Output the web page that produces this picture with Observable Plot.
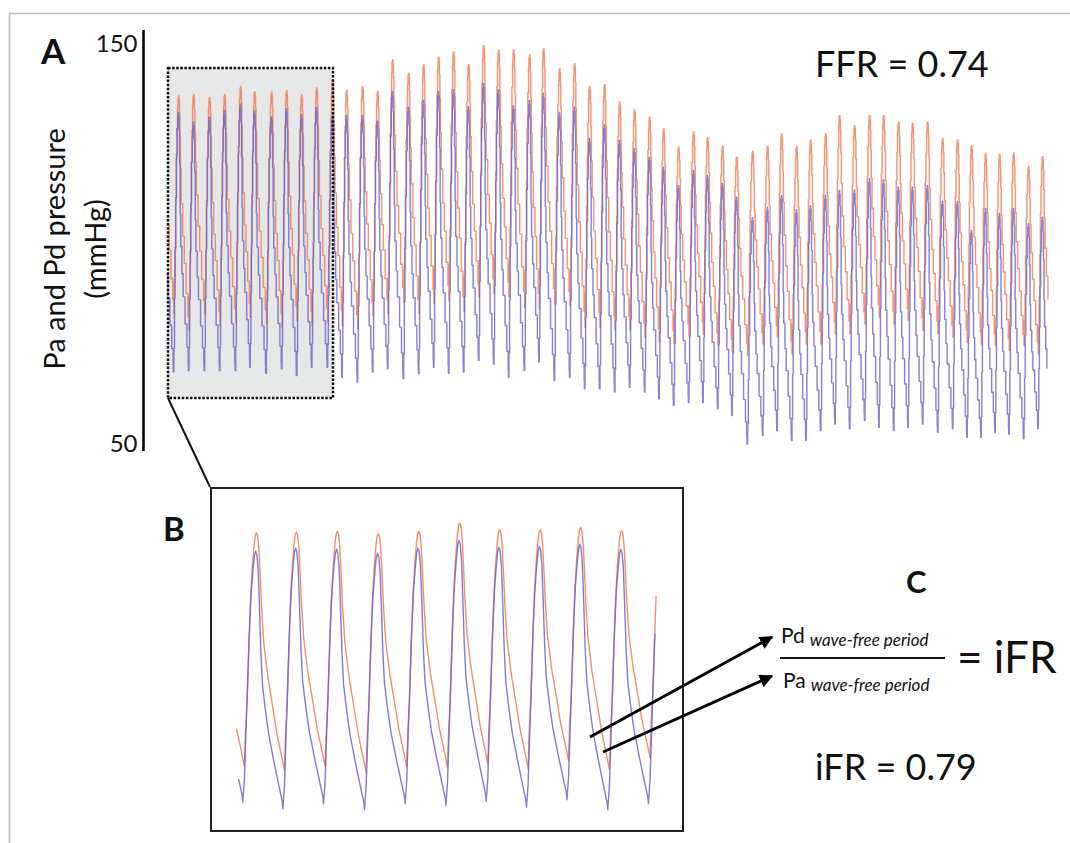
<!DOCTYPE html>
<html><head><meta charset="utf-8">
<script src="https://cdn.jsdelivr.net/npm/d3@7"></script>
<script src="https://cdn.jsdelivr.net/npm/@observablehq/plot@0.6"></script>
<style>
html,body{margin:0;padding:0;background:#fff;}
#fig{position:relative;width:1070px;height:843px;overflow:hidden;font-family:Lato,"Open Sans",sans-serif;}
#fig > svg{position:absolute;}
</style></head><body><div id="fig"></div>
<script>
// ---------- Panel A: whole recording (time in s, pressure in mmHg) ----------
const beatPeakTimeA = [-0.17,0.60,1.35,2.15,2.90,3.70,4.40,5.25,6.00,6.75,
  7.50,8.30,9.00,9.80,10.55,11.30,12.10,12.85,13.60,14.35,
  15.10,15.85,16.60,17.35,18.15,18.85,19.65,20.40,21.15,21.90,
  22.65,23.40,24.15,24.85,25.60,26.35,27.05,27.80,28.50,29.30,
  30.05,30.75,31.50,32.20,32.95,33.65,34.40,35.15,35.85,36.60,
  37.30,38.05,38.80,39.55,40.25,40.95,41.65,42.35,43.10,43.80];
const paSystolicA = [138,137.0,137.4,136.6,137.4,139.4,138.0,138.0,138.4,137.3,
  139.0,141,138.4,139.4,138.2,146.0,142.7,144.9,146.7,148.0,
  144.9,149.6,148.5,148.5,147.3,148.8,143.8,145.1,139.4,139.9,
  135.5,133.6,131.7,128.8,124.2,128.0,126.6,124.6,121.7,123.2,
  124.4,127.5,124.4,126.0,127.5,132.1,129.6,132.1,132.1,130.5,
  130.2,130.5,126.3,126.0,124.6,122.7,122.4,122.7,119.4,121.9];
const paDiastolicA = [80,82.6,78.4,82.6,79.6,80.4,81.6,80.1,79.1,80.9,
  79.6,80.4,79.6,78.8,82.1,82.6,85.4,82.6,85.1,85.9,
  83.0,86.7,87.6,86.7,84.2,83.8,85.1,84.6,79.2,79.2,
  78.4,78.4,76.7,75.5,75.1,77.1,77.5,74.6,73.0,72.1,
  75.0,76.7,72.5,75.0,75.0,77.5,77.5,80.0,81.7,80.0,
  80.9,78.4,77.5,76.7,75.4,75.0,74.6,73.4,74.6,72.5,72];
const pdSystolicA = [133,132.9,130.5,131.7,133.4,135.0,133.4,131.7,133.8,132.3,
  134.2,132,132.1,132.1,130.7,138.1,134.2,135.9,138.1,138.6,
  134.4,140.1,138.6,134.6,135.9,137.7,132.9,134.2,126.3,129.8,
  125.9,123.8,121.7,119.2,114.6,118.4,117.1,115.1,111.7,106.6,
  109.2,112.1,108.6,109.6,112.1,113.4,113.5,116.3,116.0,114.2,
  114.2,114.6,110.7,110.7,103.4,108.8,107.6,108.8,105.1,106.7];
const pdDiastolicA = [68,68.0,68.4,68.4,68.4,68.4,69.2,67.7,68.8,67.1,
  69.2,69.2,66.7,65.5,68.0,68.8,66.3,67.6,69.2,67.7,
  68.0,70.9,70.0,66.7,68.4,70.5,65.9,66.7,63.8,63.8,
  63.0,64.2,63.0,61.3,59.6,60.4,60.4,58.8,57.1,50.0,
  52.1,53.4,50.9,50.9,53.4,55.0,53.8,55.9,54.2,53.4,
  54.2,55.0,52.9,53.8,51.7,51.7,52.9,52.5,51.3,53.8,54];
const timeRangeA = [0, 44.1];
const pressureDomain = [50, 150];
const pressureTicks = [50, 150];
const axisExtent = [48.1, 153.4];
const zoomWindowTime = [0.1, 8.35];
const zoomWindowPressure = [61.4, 143.9];

// ---------- Panel B: magnified window ----------
const beatPeakTimeB = [-0.36,0.43,1.21,2.01,2.81,3.60,4.40,5.18,5.97,6.76,7.56,8.35];
const paSystolicB = [137.0,136.5,136.7,136.9,136.3,136.9,139.0,137.3,137.3,137.9,137.1,137.0];
const paDiastolicB = [78.0,78.1,77.0,78.1,76.6,78.1,77.9,78.7,77.6,79.6,77.4,80.4,78.0];
const pdSystolicB = [132.0,131.9,132.7,132.4,131.4,132.7,134.6,132.9,133.1,133.6,132.4,132.0];
const pdDiastolicB = [68.0,69.2,67.5,68.8,67.3,68.8,68.4,69.4,67.9,69.8,67.3,68.8,68.0];
const timeRangeB = [0, 8.24];
const pressureDomainB = [61.6, 147.85];

// ---------- beat shape (phase relative to Pa peak, level 0 = trough, 1 = peak) ----------
const paShapePhase = [-0.30,-0.275,-0.23,-0.19,-0.15,-0.105,-0.06,-0.03,0,0.03,0.06,0.09,0.125,0.18,0.28,0.39,0.51,0.63];
const paShapeLevel = [0,0.145,0.285,0.50,0.71,0.85,0.95,0.99,1,0.985,0.93,0.83,0.69,0.54,0.40,0.285,0.157,0.06];
const pdShapePhase = [-0.34,-0.30,-0.26,-0.22,-0.18,-0.13,-0.08,-0.05,-0.02,0.01,0.04,0.07,0.11,0.15,0.23,0.31,0.44,0.56,0.645];
const pdShapeLevel = [0,0.09,0.285,0.48,0.67,0.84,0.94,0.985,1,0.985,0.93,0.80,0.606,0.48,0.375,0.285,0.18,0.09,0.027];

function buildTrace(peaks, sys, dia, phases, levels, range) {
  const iPk = levels.indexOf(1);
  const out = [];
  for (let i = 0; i < peaks.length; i++) {
    const prev = i > 0 ? peaks[i] - peaks[i-1] : peaks[1] - peaks[0];
    const next = i < peaks.length - 1 ? peaks[i+1] - peaks[i] : prev;
    phases.forEach((ph, k) => {
      const rising = k <= iPk;
      const t = peaks[i] + ph * (ph < 0 ? prev : next);
      const lo = rising ? dia[i] : dia[i+1];
      const v = lo + (sys[i] - lo) * levels[k];
      if (t >= range[0] && t <= range[1]) out.push({t, v});
    });
  }
  return out;
}

const paA = buildTrace(beatPeakTimeA, paSystolicA, paDiastolicA, paShapePhase, paShapeLevel, timeRangeA);
const pdA = buildTrace(beatPeakTimeA, pdSystolicA, pdDiastolicA, pdShapePhase, pdShapeLevel, timeRangeA);
const paB = buildTrace(beatPeakTimeB, paSystolicB, paDiastolicB, paShapePhase, paShapeLevel, timeRangeB);
const pdB = buildTrace(beatPeakTimeB, pdSystolicB, pdDiastolicB, pdShapePhase, pdShapeLevel, timeRangeB);

const zoomWin = [{x1: zoomWindowTime[0], x2: zoomWindowTime[1], y1: zoomWindowPressure[0], y2: zoomWindowPressure[1]}];
const axisLine = [{x: timeRangeA[0], y1: axisExtent[0], y2: axisExtent[1]}];

const PA = "#f07a52", PD = "#6c64c8";
const fig = document.getElementById("fig");

const plotA = Plot.plot({
  width: 1070, height: 460,
  marginLeft: 166, marginRight: 22, marginTop: 43.5, marginBottom: 16.5,
  x: {domain: timeRangeA, axis: null},
  y: {domain: pressureDomain, axis: null},
  style: {fontFamily: "Lato, sans-serif", background: "transparent", overflow: "visible", color: "#111"},
  marks: [
    Plot.rect(zoomWin, {x1: "x1", x2: "x2", y1: "y1", y2: "y2", fill: "#e6e7e7"}),
    Plot.line(paA, {x: "t", y: "v", stroke: PA, strokeWidth: 1.45, strokeOpacity: 0.8, curve: "step-after"}),
    Plot.line(pdA, {x: "t", y: "v", stroke: PD, strokeWidth: 1.45, strokeOpacity: 0.8, curve: "step-after"}),
    Plot.rect(zoomWin, {x1: "x1", x2: "x2", y1: "y1", y2: "y2", fill: "none", stroke: "#111", strokeWidth: 2.5, strokeDasharray: "2.5,1.6"}),
    Plot.ruleX(axisLine, {x: "x", y1: "y1", y2: "y2", dx: -23, stroke: "#000", strokeWidth: 2.5}),
    Plot.text(pressureTicks, {x: timeRangeA[0], y: d => d, text: d => String(d), dx: -29, textAnchor: "end", fontSize: 24, fill: "#111"})
  ]
});
plotA.style.left = "0px"; plotA.style.top = "0px";
fig.appendChild(plotA);

const plotB = Plot.plot({
  width: 474, height: 345,
  marginLeft: 24, marginRight: 28, marginTop: 0, marginBottom: 0,
  x: {domain: timeRangeB, axis: null},
  y: {domain: pressureDomainB, axis: null},
  style: {background: "transparent", overflow: "visible"},
  marks: [
    Plot.line(paB, {x: "t", y: "v", stroke: PA, strokeWidth: 1.4, strokeOpacity: 0.85}),
    Plot.line(pdB, {x: "t", y: "v", stroke: PD, strokeWidth: 1.4, strokeOpacity: 0.85})
  ]
});
plotB.style.left = "210px"; plotB.style.top = "487px";
fig.appendChild(plotB);

// ---------- annotations ----------
const ns = "http://www.w3.org/2000/svg";
const ann = document.createElementNS(ns, "svg");
ann.setAttribute("width", 1070); ann.setAttribute("height", 843);
ann.style.left = "0px"; ann.style.top = "0px"; ann.style.pointerEvents = "none";
ann.innerHTML = `
<defs><marker id="ah" viewBox="0 0 10 10" refX="9" refY="5" markerWidth="4.5" markerHeight="4.5" orient="auto"><path d="M0,0 L10,5 L0,10 z" fill="#000"/></marker></defs>
<path d="M9.5,843 V13.5 H1070" fill="none" stroke="#bdbdbd" stroke-width="1.6"/>
<rect x="211" y="488" width="472" height="343" fill="none" stroke="#222" stroke-width="2"/>
<line x1="168" y1="398" x2="210" y2="487" stroke="#111" stroke-width="2"/>
<g font-family="Lato, sans-serif" fill="#111">
<text x="41" y="64" font-size="35" font-weight="bold">A</text>
<text x="163" y="541" font-size="33" font-weight="bold">B</text>
<text x="906" y="593" font-size="31" font-weight="bold">C</text>
<text transform="translate(65,249) rotate(-90)" text-anchor="middle" font-size="29">Pa and Pd pressure</text>
<text transform="translate(106,249) rotate(-90)" text-anchor="middle" font-size="29">(mmHg)</text>
<text x="815" y="77" font-size="36">FFR = 0.74</text>
<text x="781" y="643" font-size="21">Pd<tspan font-size="17" font-style="italic" dx="5" dy="3">wave-free period</tspan></text>
<text x="783" y="688" font-size="21">Pa<tspan font-size="17" font-style="italic" dx="5" dy="3">wave-free period</tspan></text>
<text x="957" y="673" font-size="44">= iFR</text>
<text x="815" y="780" font-size="36">iFR = 0.79</text>
</g>
<line x1="780" y1="658" x2="945" y2="658" stroke="#111" stroke-width="2"/>
<line x1="590" y1="737" x2="772" y2="637" stroke="#000" stroke-width="3" marker-end="url(#ah)"/>
<line x1="603" y1="752" x2="772" y2="676" stroke="#000" stroke-width="3" marker-end="url(#ah)"/>
`;
fig.appendChild(ann);
</script></body></html>
